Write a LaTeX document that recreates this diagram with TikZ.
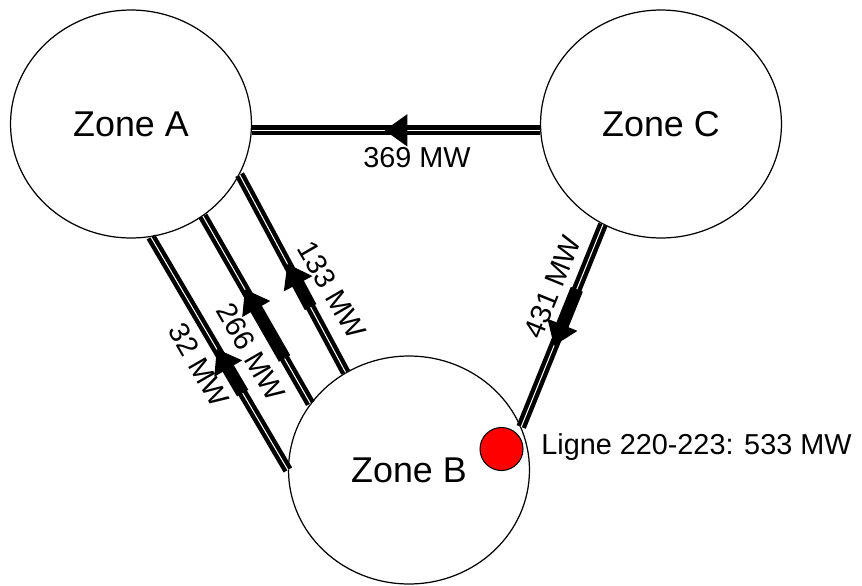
\documentclass[tikz,border=0pt]{standalone}
\usepackage{fontspec}
\setmainfont{Liberation Sans}
\usepackage{tikz}
\usetikzlibrary{arrows.meta,calc,shapes.geometric}
\definecolor{faultred}{RGB}{255,0,0}
\tikzset{
  zone/.style={draw, ellipse, line width=.7pt, inner sep=0pt,
    minimum width=4.82cm, minimum height=4.56cm,
    font=\fontsize{20.4pt}{24pt}\selectfont},
  tieline/.style={draw=black, double=white, double distance=.6pt,
    line width=2.5pt, line cap=butt},
  flowhead/.style={line width=7.4pt, line cap=butt,
    -{Triangle[length=13pt 0 0,width=17.5pt 0 0]}},
  flowlabel/.style={inner sep=0pt, font=\fontsize{16.4pt}{19pt}\selectfont},
  fault/.style={circle, draw, fill=faultred, line width=.6pt,
    minimum size=.86cm, inner sep=0pt}
}
% Thick arrow on a tie line: from, to, start and tip as fractions.
\newcommand{\flowarrow}[4]{%
  \draw[flowhead] ($(#1)!#3!(#2)$) -- ($(#1)!#4!(#2)$);}

\begin{document}
\begin{tikzpicture}[x=.02cm, y=-.02cm]
  \useasboundingbox (0,0) rectangle (862,585);

  % Zones
  \node[zone] (A) at (131,124) {Zone A};
  \node[zone] (C) at (661,124) {Zone C};
  \node[zone] (B) at (409,470) {Zone B};

  % Tie lines between the zones
  \draw[tieline] (A.-3) -- (C.183);
  \draw[tieline] (A.-80.5) -- (B.180);
  \draw[tieline] (A.-52.6) -- (B.146.7);
  \draw[tieline] (A.-25.5) -- (B.123.1);
  \draw[tieline] (C.-120.6) -- (B.21.3);

  % Flow directions
  \flowarrow{C.183}{A.-3}{.462}{.54}
  \flowarrow{B.180}{A.-80.5}{.33}{.52}
  \flowarrow{B.146.7}{A.-52.6}{.24}{.61}
  \flowarrow{B.123.1}{A.-25.5}{.33}{.55}
  \flowarrow{C.-120.6}{B.21.3}{.32}{.60}

  % Flow values
  \node[flowlabel, anchor=base] (f369) at (417,167) {369 MW};
  \node[flowlabel, rotate=-60] (f32) at (199,365) {32 MW};
  \node[flowlabel, rotate=-60] (f266) at (251,352) {266 MW};
  \node[flowlabel, rotate=-60] (f133) at (332,290) {133 MW};
  \node[flowlabel, rotate=68] (f431) at (552,287) {431 MW};

  % Congested line
  \node[fault] (F) at (501.5,449) {};
  \node[flowlabel, anchor=base west] (Flab) at (541,454)
    {Ligne 220-223: 533 MW};
\end{tikzpicture}
\end{document}
